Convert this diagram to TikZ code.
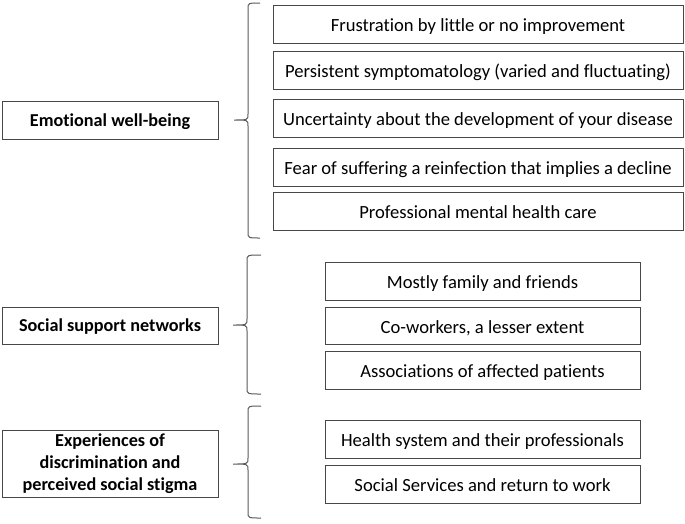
\documentclass[tikz,border=0pt]{standalone}
\usepackage{fontspec}
\setmainfont{Carlito}[Ligatures={NoCommon}]
\begin{document}
\begin{tikzpicture}[x=1pt,y=-1pt,
  box/.style={draw=black!72, line width=1pt, inner sep=0pt, text=black,
    font=\fontsize{18.6}{22}\selectfont, align=center},
  gone/.style={box, minimum width=410, minimum height=38, text height=16, text depth=2},
  gtwo/.style={box, minimum width=315, minimum height=37.5, text height=16, text depth=2},
  lbox/.style={box, minimum width=216, font=\fontsize{18.2}{22}\selectfont\bfseries},
  brace/.style={draw=black!65, line width=1pt}]
\useasboundingbox (0,0) rectangle (685,523);
% left category boxes
\node[lbox, minimum height=38, text height=15, text depth=3] (L1) at (110,120) {Emotional well-being};
\node[lbox, minimum height=37, text height=15, text depth=3] (L2) at (110,325.5) {Social support networks};
\node[lbox, minimum height=67] (L3) at (110,463.5) {Experiences of\\discrimination and\\perceived social stigma};
% group 1
\node[gone] (e1) at (478,24) {Frustration by little or no improvement};
\node[gone] (e2) at (478,70.5) {Persistent symptomatology (varied and fluctuating)};
\node[gone] (e3) at (478,118) {Uncertainty about the development of your disease};
\node[gone] (e4) at (478,167) {Fear of suffering a reinfection that implies a decline};
\node[gone] (e5) at (478,211.5) {Professional mental health care};
% group 2
\node[gtwo] (s1) at (482.5,281.5) {Mostly family and friends};
\node[gtwo] (s2) at (482.5,326) {Co-workers, a lesser extent};
\node[gtwo] (s3) at (482.5,370.5) {Associations of affected patients};
% group 3
\node[gtwo] (d1) at (482.5,439.5) {Health system and their professionals};
\node[gtwo] (d2) at (482.5,484.5) {Social Services and return to work};
% braces
\draw[brace] (260,3) .. controls (248,3) .. (248,9) -- (248,114)
  .. controls (248,120) .. (234,120) .. controls (248,120) .. (248,126)
  -- (248,232) .. controls (248,238) .. (260,238);
\draw[brace] (261,255) .. controls (247,255) .. (247,261) -- (247,319)
  .. controls (247,325) .. (233,325) .. controls (247,325) .. (247,331)
  -- (247,388) .. controls (247,394) .. (261,394);
\draw[brace] (261,406) .. controls (248,406) .. (248,412) -- (248,458)
  .. controls (248,464) .. (233,464) .. controls (248,464) .. (248,470)
  -- (248,512) .. controls (248,518) .. (261,518);
\end{tikzpicture}
\end{document}
